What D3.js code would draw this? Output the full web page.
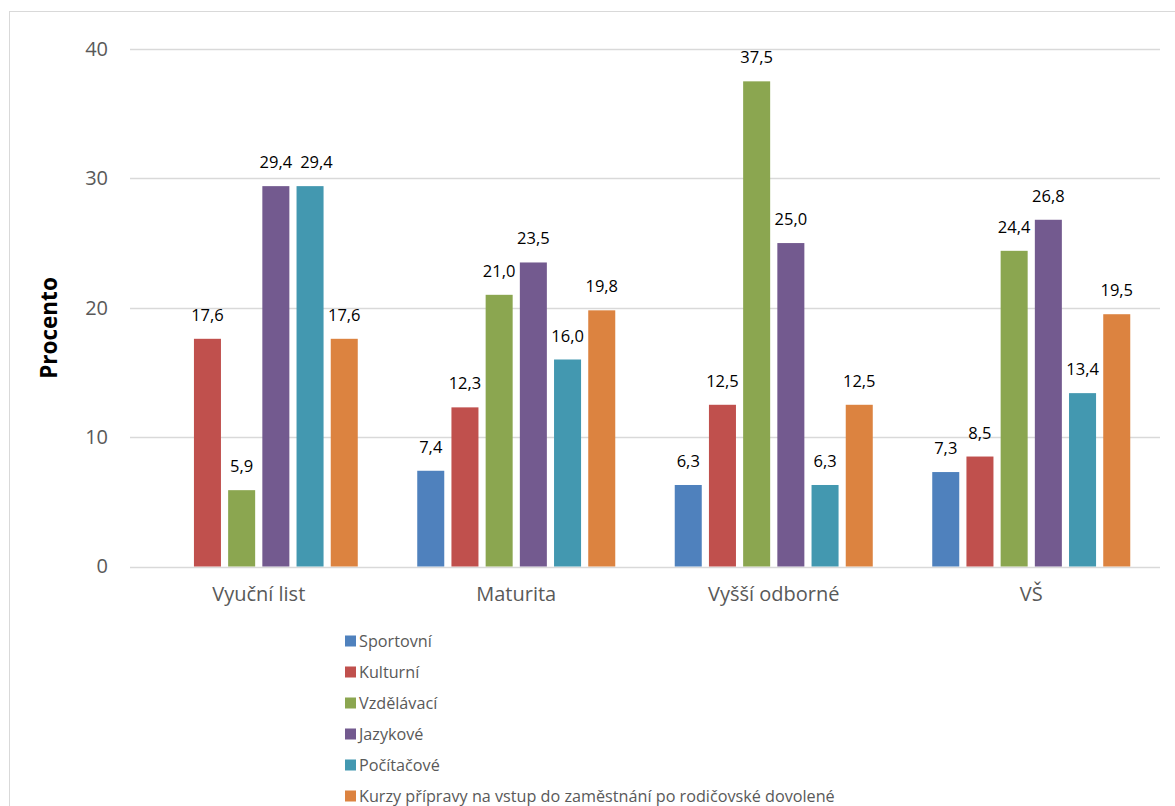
<!DOCTYPE html>
<html><head><meta charset="utf-8">
<script src="https://cdn.jsdelivr.net/npm/d3@7"></script>
<style>body{margin:0;background:#fff;} svg{display:block;} text{font-family:"Open Sans",sans-serif;}</style>
</head><body>
<svg id="c" width="1175" height="806"></svg>
<script>
const categories = ["Vyuční list", "Maturita", "Vyšší odborné", "VŠ"];
const seriesNames = ["Sportovní", "Kulturní", "Vzdělávací", "Jazykové", "Počítačové", "Kurzy přípravy na vstup do zaměstnání po rodičovské dovolené"];
const sportovni = [null, 7.4, 6.3, 7.3];
const kulturni = [17.6, 12.3, 12.5, 8.5];
const vzdelavaci = [5.9, 21.0, 37.5, 24.4];
const jazykove = [29.4, 23.5, 25.0, 26.8];
const pocitacove = [29.4, 16.0, 6.3, 13.4];
const kurzy = [17.6, 19.8, 12.5, 19.5];
const yTicks = [0, 10, 20, 30, 40];
const colors = ["#4F81BD", "#C0504D", "#8BA650", "#735A8F", "#4398B0", "#DC8340"];

const seriesValues = [sportovni, kulturni, vzdelavaci, jazykove, pocitacove, kurzy];
const svg = d3.select("#c");

// outer frame
svg.append("rect").attr("x", 9.5).attr("y", 11.5).attr("width", 1200).attr("height", 850)
  .attr("fill", "none").attr("stroke", "#d9d9d9").attr("stroke-width", 1);

const mLeft = 130, mRight = 1160, mTop = 49, mBottom = 566.5;
const x0 = d3.scaleBand().domain(categories).range([mLeft, mRight]).paddingInner(0.231).paddingOuter(0.1155);
const x1 = d3.scaleBand().domain(d3.range(seriesNames.length)).range([0, x0.bandwidth()]).paddingInner(0.21).paddingOuter(0);
const y = d3.scaleLinear().domain([0, 40]).range([mBottom, mTop]);

// gridlines
svg.append("g").selectAll("line").data(yTicks).join("line")
  .attr("x1", mLeft).attr("x2", mRight)
  .attr("y1", d => Math.round(y(d)) + 0.5).attr("y2", d => Math.round(y(d)) + 0.5)
  .attr("stroke", "#d9d9d9").attr("stroke-width", 1.3);

// y axis labels
const yAxis = d3.axisLeft(y).tickValues(yTicks).tickSize(0).tickPadding(22).tickFormat(d3.format("d"));
const ya = svg.append("g").attr("transform", `translate(${mLeft},0)`).call(yAxis);
ya.select(".domain").remove();
ya.selectAll("text").attr("font-size", 20).attr("fill", "#595959").attr("font-family", "Open Sans, sans-serif");

// x axis labels
const xAxis = d3.axisBottom(x0).tickSize(0).tickPadding(20);
const xa = svg.append("g").attr("transform", `translate(0,${mBottom})`).call(xAxis);
xa.select(".domain").remove();
xa.selectAll("text").attr("font-size", 20).attr("fill", "#595959").attr("font-family", "Open Sans, sans-serif");

// bars
const fmt = v => d3.format(".1f")(v).replace(".", ",");
categories.forEach((cat, ci) => {
  const g = svg.append("g").attr("transform", `translate(${x0(cat)},0)`);
  const data = seriesValues.map((vals, si) => ({si, v: vals[ci]})).filter(d => d.v != null);
  g.selectAll("rect").data(data).join("rect")
    .attr("x", d => x1(d.si)).attr("width", x1.bandwidth())
    .attr("y", d => y(d.v)).attr("height", d => y(0) - y(d.v))
    .attr("fill", d => colors[d.si]);
  const labels = g.selectAll("text").data(data).join("text")
    .attr("x", d => x1(d.si) + x1.bandwidth() / 2)
    .attr("y", d => y(d.v) - 18)
    .attr("text-anchor", "middle").attr("font-size", 16.5).attr("fill", "#000")
    .text(d => fmt(d.v));
  // simple collision avoidance between neighbouring labels at the same height
  let prev = null;
  labels.each(function(d) {
    const w = this.getComputedTextLength();
    let cx = +this.getAttribute("x");
    const ly = +this.getAttribute("y");
    if (prev && Math.abs(prev.y - ly) < 14 && cx - w / 2 < prev.right + 8) {
      cx = prev.right + 8 + w / 2;
      this.setAttribute("x", cx);
    }
    prev = {right: cx + w / 2, y: ly};
  });
});

// y label
svg.append("text").attr("transform", "translate(57,328) rotate(-90)")
  .attr("text-anchor", "middle").attr("font-size", 22.5).attr("font-weight", "bold").attr("fill", "#000")
  .text("Procento");

// legend
const lg = svg.append("g");
seriesNames.forEach((name, i) => {
  const yy = 640.5 + i * 31;
  lg.append("rect").attr("x", 345).attr("y", yy - 5).attr("width", 11).attr("height", 11).attr("fill", colors[i]);
  lg.append("text").attr("x", 359).attr("y", yy + 6).attr("font-size", 16.2).attr("fill", "#595959").text(name);
});
</script>
</body></html>
